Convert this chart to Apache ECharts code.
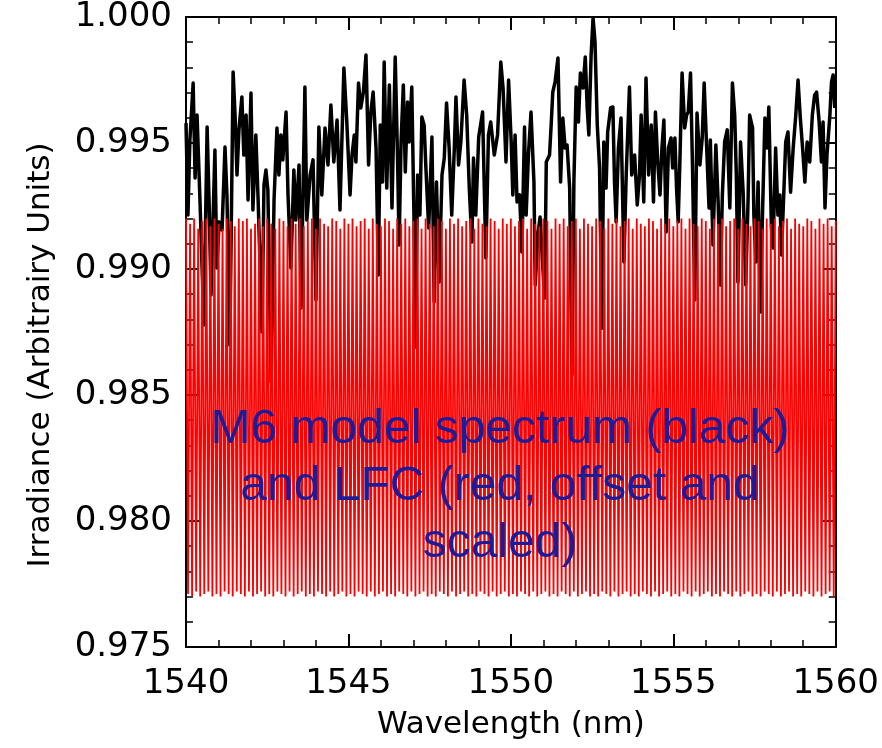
<!DOCTYPE html>
<html>
<head>
<meta charset="utf-8">
<script src="https://cdn.jsdelivr.net/npm/echarts@6/dist/echarts.min.js"></script>
<style>html,body{margin:0;padding:0;background:#fff}#c{width:882px;height:748px}</style>
</head>
<body>
<div id="c"></div>
<script>
// Axis ticks
const xTicks = [1540, 1545, 1550, 1555, 1560];
const yTicks = [0.975, 0.980, 0.985, 0.990, 0.995, 1.000];

// M6 model spectrum (black): wavelength (nm) and irradiance
const blackWl = [
1540.00,1540.06,1540.12,1540.22,1540.28,1540.34,1540.43,1540.55,1540.65,1540.71,
1540.77,1540.89,1540.95,1541.02,1541.11,1541.20,1541.26,1541.35,1541.45,1541.51,
1541.57,1541.63,1541.72,1541.78,1541.85,1541.91,1542.00,1542.06,1542.15,1542.22,
1542.34,1542.40,1542.46,1542.52,1542.62,1542.71,1542.80,1542.86,1542.92,1542.98,
1543.08,1543.14,1543.23,1543.32,1543.38,1543.48,1543.54,1543.66,1543.72,1543.82,
1543.91,1544.00,1544.09,1544.18,1544.28,1544.37,1544.46,1544.55,1544.65,1544.74,
1544.86,1544.95,1545.05,1545.11,1545.18,1545.23,1545.31,1545.38,1545.46,1545.54,
1545.62,1545.69,1545.76,1545.85,1545.92,1545.98,1546.05,1546.10,1546.18,1546.26,
1546.34,1546.44,1546.51,1546.56,1546.62,1546.69,1546.75,1546.82,1546.87,1546.95,
1547.02,1547.06,1547.13,1547.20,1547.26,1547.33,1547.38,1547.47,1547.57,1547.64,
1547.71,1547.79,1547.88,1547.95,1548.02,1548.10,1548.18,1548.26,1548.31,1548.39,
1548.46,1548.56,1548.64,1548.72,1548.80,1548.85,1548.92,1549.01,1549.13,1549.23,
1549.31,1549.38,1549.49,1549.59,1549.69,1549.76,1549.85,1549.93,1550.01,1550.06,
1550.13,1550.19,1550.27,1550.34,1550.42,1550.47,1550.54,1550.62,1550.71,1550.75,
1550.83,1550.90,1550.95,1551.04,1551.09,1551.19,1551.24,1551.29,1551.36,1551.45,
1551.53,1551.60,1551.67,1551.73,1551.81,1551.88,1551.94,1552.01,1552.08,1552.14,
1552.22,1552.29,1552.35,1552.40,1552.47,1552.53,1552.59,1552.66,1552.73,1552.80,
1552.86,1552.93,1552.98,1553.07,1553.14,1553.19,1553.24,1553.31,1553.39,1553.48,
1553.55,1553.65,1553.72,1553.81,1553.89,1553.96,1554.01,1554.09,1554.16,1554.24,
1554.32,1554.39,1554.45,1554.52,1554.59,1554.65,1554.71,1554.78,1554.85,1554.93,
1554.98,1555.05,1555.10,1555.15,1555.20,1555.27,1555.35,1555.41,1555.46,1555.53,
1555.59,1555.66,1555.73,1555.82,1555.89,1555.95,1556.02,1556.10,1556.14,1556.22,
1556.31,1556.38,1556.45,1556.51,1556.58,1556.66,1556.74,1556.82,1556.89,1556.94,
1556.99,1557.07,1557.15,1557.23,1557.30,1557.35,1557.44,1557.48,1557.54,1557.61,
1557.68,1557.74,1557.82,1557.89,1557.94,1558.02,1558.07,1558.15,1558.22,1558.28,
1558.33,1558.46,1558.53,1558.61,1558.69,1558.77,1558.84,1558.91,1558.98,1559.05,
1559.12,1559.20,1559.28,1559.35,1559.41,1559.49,1559.56,1559.61,1559.67,1559.73,
1559.82,1559.87,1559.92,1559.97
];
const blackIrr = [
0.99579,0.99214,0.99512,0.99738,0.99361,0.99611,0.99274,0.98778,0.99563,0.99274,
0.98897,0.99472,0.99004,0.99187,0.99155,0.99484,0.99294,0.98698,0.99782,0.99611,
0.99373,0.99552,0.99683,0.99452,0.99611,0.99274,0.99698,0.99234,0.99532,0.99274,
0.98750,0.99333,0.99393,0.99313,0.98552,0.99274,0.99560,0.99373,0.99532,0.99433,
0.99623,0.99294,0.99004,0.99393,0.99194,0.99413,0.98845,0.99722,0.99194,0.99373,
0.99433,0.98877,0.99563,0.99294,0.99560,0.99413,0.99651,0.99425,0.99591,0.99234,
0.99798,0.99583,0.99294,0.99452,0.99532,0.99425,0.99738,0.99639,0.99702,0.99849,
0.99413,0.99623,0.99702,0.99480,0.98976,0.99571,0.99345,0.99821,0.99321,0.99730,
0.99242,0.99841,0.99452,0.99095,0.99504,0.99730,0.99385,0.99663,0.99504,0.99722,
0.99187,0.98690,0.99373,0.99214,0.99603,0.99571,0.99413,0.99163,0.99524,0.98869,
0.99345,0.98948,0.99373,0.99440,0.99659,0.99480,0.99214,0.99480,0.99683,0.99413,
0.99504,0.99750,0.99611,0.99321,0.99107,0.99440,0.99214,0.99524,0.99623,0.99044,
0.99532,0.99583,0.99452,0.99532,0.99821,0.99718,0.99425,0.99750,0.99504,0.99294,
0.99532,0.99266,0.99294,0.99067,0.99563,0.99214,0.99452,0.99623,0.99345,0.98937,
0.99135,0.99206,0.99083,0.98885,0.99425,0.99452,0.99571,0.99702,0.99742,0.99837,
0.99345,0.99599,0.99480,0.99492,0.99321,0.98579,0.99345,0.99722,0.99583,0.99778,
0.99718,0.99841,0.99639,0.99532,0.99849,0.99996,0.99901,0.99571,0.99401,0.98765,
0.99504,0.99321,0.99544,0.99639,0.99643,0.99345,0.99187,0.99480,0.99599,0.99028,
0.99373,0.99722,0.99373,0.99452,0.99254,0.99373,0.99611,0.99266,0.99758,0.99373,
0.99571,0.99266,0.99623,0.99425,0.99294,0.99480,0.99591,0.99147,0.99480,0.99520,
0.99401,0.99520,0.99321,0.99187,0.99413,0.99778,0.99560,0.99611,0.99623,0.99778,
0.99413,0.98877,0.99619,0.99413,0.99520,0.99738,0.99504,0.99242,0.99512,0.99095,
0.99492,0.99266,0.98937,0.99294,0.99504,0.99552,0.99242,0.99738,0.99611,0.99373,
0.98948,0.99504,0.99305,0.98937,0.99266,0.99611,0.99560,0.99214,0.99028,0.99345,
0.98829,0.99187,0.99599,0.99480,0.99643,0.99163,0.99083,0.99480,0.99214,0.99294,
0.99056,0.99504,0.99544,0.99305,0.99480,0.99611,0.99750,0.99599,0.99480,0.99345,
0.99504,0.99425,0.99611,0.99690,0.99702,0.99583,0.99425,0.99583,0.99242,0.99452,
0.99611,0.99742,0.99770,0.99639
];

// LFC comb (red, offset and scaled): evenly spaced teeth
const combStart = 1540;
const combStep = 0.125;
const combTops = [
0.9920,0.9918,0.9920,0.9916,0.9919,0.9920,0.9917,0.9920,0.9918,0.9916,
0.9920,0.9919,0.9917,0.9920,0.9919,0.9920,0.9916,0.9918,0.9920,0.9917,
0.9920,0.9918,0.9916,0.9920,0.9919,0.9917,0.9920,0.9918,0.9920,0.9917,
0.9919,0.9920,0.9916,0.9920,0.9918,0.9917,0.9920,0.9919,0.9916,0.9920,
0.9918,0.9920,0.9917,0.9919,0.9920,0.9916,0.9920,0.9918,0.9917,0.9920,
0.9919,0.9916,0.9920,0.9918,0.9920,0.9917,0.9919,0.9920,0.9916,0.9920,
0.9918,0.9917,0.9920,0.9919,0.9916,0.9920,0.9918,0.9920,0.9917,0.9919,
0.9920,0.9916,0.9920,0.9918,0.9917,0.9920,0.9919,0.9916,0.9920,0.9918,
0.9920,0.9917,0.9919,0.9920,0.9916,0.9920,0.9918,0.9917,0.9920,0.9919,
0.9916,0.9920,0.9918,0.9920,0.9917,0.9919,0.9920,0.9916,0.9920,0.9918,
0.9917,0.9920,0.9919,0.9916,0.9920,0.9918,0.9920,0.9917,0.9919,0.9920,
0.9916,0.9920,0.9918,0.9917,0.9920,0.9919,0.9916,0.9920,0.9918,0.9920,
0.9917,0.9919,0.9920,0.9916,0.9920,0.9918,0.9917,0.9920,0.9919,0.9916,
0.9920,0.9918,0.9920,0.9917,0.9919,0.9920,0.9916,0.9920,0.9918,0.9917,
0.9920,0.9919,0.9916,0.9920,0.9918,0.9920,0.9917,0.9919,0.9920,0.9916,
0.9920,0.9918,0.9917,0.9920,0.9919,0.9916,0.9920,0.9918,0.9920,0.9917,
0.9919
];
const combBottoms = [
0.9771,0.9770,0.9772,0.9770,0.9771,0.9772,0.9770,0.9771,0.9770,0.9772,
0.9771,0.9770,0.9772,0.9771,0.9770,0.9772,0.9770,0.9771,0.9772,0.9770,
0.9771,0.9770,0.9772,0.9771,0.9770,0.9772,0.9770,0.9771,0.9772,0.9770,
0.9771,0.9770,0.9772,0.9771,0.9770,0.9772,0.9770,0.9771,0.9772,0.9770,
0.9771,0.9770,0.9772,0.9771,0.9770,0.9772,0.9770,0.9771,0.9772,0.9770,
0.9771,0.9770,0.9772,0.9771,0.9770,0.9772,0.9770,0.9771,0.9772,0.9770,
0.9771,0.9770,0.9772,0.9771,0.9770,0.9772,0.9770,0.9771,0.9772,0.9770,
0.9771,0.9770,0.9772,0.9771,0.9770,0.9772,0.9770,0.9771,0.9772,0.9770,
0.9771,0.9770,0.9772,0.9771,0.9770,0.9772,0.9770,0.9771,0.9772,0.9770,
0.9771,0.9770,0.9772,0.9771,0.9770,0.9772,0.9770,0.9771,0.9772,0.9770,
0.9771,0.9770,0.9772,0.9771,0.9770,0.9772,0.9770,0.9771,0.9772,0.9770,
0.9771,0.9770,0.9772,0.9771,0.9770,0.9772,0.9770,0.9771,0.9772,0.9770,
0.9771,0.9770,0.9772,0.9771,0.9770,0.9772,0.9770,0.9771,0.9772,0.9770,
0.9771,0.9770,0.9772,0.9771,0.9770,0.9772,0.9770,0.9771,0.9772,0.9770,
0.9771,0.9770,0.9772,0.9771,0.9770,0.9772,0.9770,0.9771,0.9772,0.9770,
0.9771,0.9770,0.9772,0.9771,0.9770,0.9772,0.9770,0.9771,0.9772,0.9770
];

const annotationLines = ['M6 model spectrum (black)', 'and LFC (red, offset and', 'scaled)'];

// Build series data
const blackData = blackWl.map((w, i) => [w, blackIrr[i]]);
const combData = [];
for (let i = 0; i < combTops.length; i++) {
  combData.push([combStart + i * combStep, combTops[i]]);
  if (i < combBottoms.length) combData.push([combStart + (i + 0.5) * combStep, combBottoms[i]]);
}

const tickFont = '"DejaVu Sans", "Liberation Sans", sans-serif';
function axisCommon(showLabel, isY) {
  return {
    axisLine: { show: true, lineStyle: { color: '#000', width: 2 } },
    axisTick: { show: true, inside: true, length: 13, lineStyle: { color: '#000', width: 2 } },
    minorTick: { show: true, splitNumber: 5, length: 7, lineStyle: { color: '#000', width: 1.5 } },
    splitLine: { show: false },
    minorSplitLine: { show: false },
    axisLabel: {
      show: showLabel, color: '#000', fontSize: 34, fontFamily: tickFont,
      margin: isY ? 14 : 20,
      formatter: isY ? (v => v.toFixed(3)) : (v => String(Math.round(v)))
    }
  };
}

const chart = echarts.init(document.getElementById('c'), null, { renderer: 'canvas' });
chart.setOption({
  animation: false,
  backgroundColor: '#fff',
  grid: { left: 186, top: 17, width: 650, height: 630, containLabel: false },
  xAxis: [
    Object.assign({
      type: 'value', position: 'bottom', min: xTicks[0], max: xTicks[xTicks.length - 1], interval: 5,
      name: 'Wavelength (nm)', nameLocation: 'middle', nameGap: 62,
      nameTextStyle: { color: '#000', fontSize: 31, fontFamily: tickFont }
    }, axisCommon(true, false)),
    Object.assign({
      type: 'value', position: 'top', min: xTicks[0], max: xTicks[xTicks.length - 1], interval: 5
    }, axisCommon(false, false))
  ],
  yAxis: [
    Object.assign({
      type: 'value', position: 'left', min: yTicks[0], max: yTicks[yTicks.length - 1], interval: 0.005,
      name: 'Irradiance (Arbitrairy Units)', nameLocation: 'middle', nameGap: 130, nameRotate: 90,
      nameTextStyle: { color: '#000', fontSize: 31, fontFamily: tickFont, padding: [0, 46, 0, 0] }
    }, axisCommon(true, true)),
    Object.assign({
      type: 'value', position: 'right', min: yTicks[0], max: yTicks[yTicks.length - 1], interval: 0.005
    }, axisCommon(false, true))
  ],
  series: [
    {
      name: 'M6 model', type: 'line', data: blackData, xAxisIndex: 0, yAxisIndex: 0,
      symbol: 'none', clip: true, z: 2,
      lineStyle: { color: '#000', width: 3.5, join: 'round' }
    },
    {
      name: 'LFC', type: 'line', data: combData, xAxisIndex: 0, yAxisIndex: 0,
      symbol: 'none', clip: true, z: 3,
      lineStyle: { color: '#ff0000', width: 1.8 }
    }
  ],
  graphic: annotationLines.map((t, i) => ({
    type: 'text', x: 500, y: 430 + i * 57, z: 10,
    style: {
      text: t, align: 'center', verticalAlign: 'middle',
      font: '48px "Liberation Sans", Arial, sans-serif',
      fill: '#1c1c99'
    }
  }))
});
</script>
</body>
</html>
